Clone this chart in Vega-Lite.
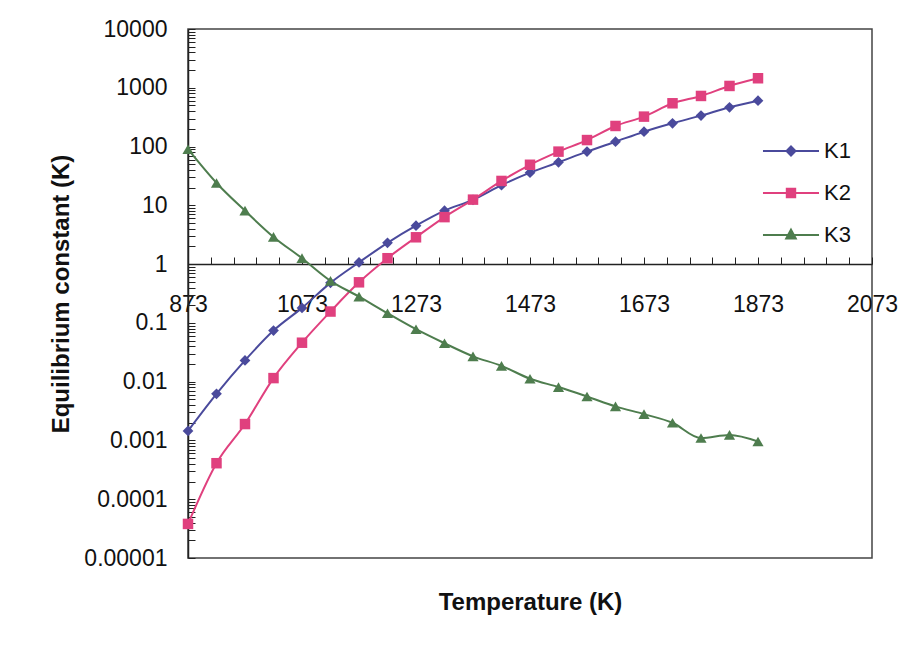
{
  "$schema": "https://vega.github.io/schema/vega-lite/v6.json",
  "width": 684,
  "height": 529,
  "autosize": "none",
  "padding": {"left": 188, "top": 29, "right": 35, "bottom": 87},
  "background": "white",
  "config": {
    "view": {"stroke": "#444444", "strokeWidth": 1.5},
    "font": "Liberation Sans",
    "legend": {
      "orient": "none", "legendX": 592, "legendY": 111,
      "labelFontSize": 22, "labelColor": "#111111", "labelFont": "Liberation Sans",
      "symbolSize": 144, "symbolStrokeWidth": 2, "rowPadding": 20, "labelOffset": 22
    }
  },
  "data": {
    "values": [
      {"T": 873, "series": "K1", "K": 0.00145},
      {"T": 923, "series": "K1", "K": 0.0062},
      {"T": 973, "series": "K1", "K": 0.023},
      {"T": 1023, "series": "K1", "K": 0.074},
      {"T": 1073, "series": "K1", "K": 0.18},
      {"T": 1123, "series": "K1", "K": 0.48},
      {"T": 1173, "series": "K1", "K": 1.07},
      {"T": 1223, "series": "K1", "K": 2.3},
      {"T": 1273, "series": "K1", "K": 4.5},
      {"T": 1323, "series": "K1", "K": 8.1},
      {"T": 1373, "series": "K1", "K": 12.4},
      {"T": 1423, "series": "K1", "K": 22},
      {"T": 1473, "series": "K1", "K": 36},
      {"T": 1523, "series": "K1", "K": 54},
      {"T": 1573, "series": "K1", "K": 82},
      {"T": 1623, "series": "K1", "K": 121},
      {"T": 1673, "series": "K1", "K": 179},
      {"T": 1723, "series": "K1", "K": 249},
      {"T": 1773, "series": "K1", "K": 336},
      {"T": 1823, "series": "K1", "K": 466},
      {"T": 1873, "series": "K1", "K": 604},
      {"T": 873, "series": "K2", "K": 0.000038},
      {"T": 923, "series": "K2", "K": 0.00041},
      {"T": 973, "series": "K2", "K": 0.0019},
      {"T": 1023, "series": "K2", "K": 0.0115},
      {"T": 1073, "series": "K2", "K": 0.046},
      {"T": 1123, "series": "K2", "K": 0.156},
      {"T": 1173, "series": "K2", "K": 0.49},
      {"T": 1223, "series": "K2", "K": 1.26},
      {"T": 1273, "series": "K2", "K": 2.86},
      {"T": 1323, "series": "K2", "K": 6.3},
      {"T": 1373, "series": "K2", "K": 12.5},
      {"T": 1423, "series": "K2", "K": 26},
      {"T": 1473, "series": "K2", "K": 49},
      {"T": 1523, "series": "K2", "K": 82},
      {"T": 1573, "series": "K2", "K": 129},
      {"T": 1623, "series": "K2", "K": 224},
      {"T": 1673, "series": "K2", "K": 323},
      {"T": 1723, "series": "K2", "K": 545},
      {"T": 1773, "series": "K2", "K": 726},
      {"T": 1823, "series": "K2", "K": 1074},
      {"T": 1873, "series": "K2", "K": 1452},
      {"T": 873, "series": "K3", "K": 90},
      {"T": 923, "series": "K3", "K": 24},
      {"T": 973, "series": "K3", "K": 8.1},
      {"T": 1023, "series": "K3", "K": 2.9},
      {"T": 1073, "series": "K3", "K": 1.26},
      {"T": 1123, "series": "K3", "K": 0.52},
      {"T": 1173, "series": "K3", "K": 0.28},
      {"T": 1223, "series": "K3", "K": 0.146},
      {"T": 1273, "series": "K3", "K": 0.078},
      {"T": 1323, "series": "K3", "K": 0.045},
      {"T": 1373, "series": "K3", "K": 0.027},
      {"T": 1423, "series": "K3", "K": 0.0186},
      {"T": 1473, "series": "K3", "K": 0.0112},
      {"T": 1523, "series": "K3", "K": 0.0081},
      {"T": 1573, "series": "K3", "K": 0.0056},
      {"T": 1623, "series": "K3", "K": 0.0038},
      {"T": 1673, "series": "K3", "K": 0.0028},
      {"T": 1723, "series": "K3", "K": 0.002},
      {"T": 1773, "series": "K3", "K": 0.0011},
      {"T": 1823, "series": "K3", "K": 0.00124},
      {"T": 1873, "series": "K3", "K": 0.00096}
    ]
  },
  "encoding": {
    "x": {
      "field": "T",
      "type": "quantitative",
      "scale": {"domain": [873, 2073], "nice": false, "zero": false},
      "axis": {
        "orient": "bottom",
        "offset": -294,
        "values": [873, 913, 953, 993, 1033, 1073, 1113, 1153, 1193, 1233, 1273, 1313, 1353, 1393, 1433, 1473, 1513, 1553, 1593, 1633, 1673, 1713, 1753, 1793, 1833, 1873, 1913, 1953, 1993, 2033, 2073],
        "labelExpr": "(datum.value - 873) % 200 == 0 ? format(datum.value, 'd') : ''",
        "tickSize": -7,
        "tickColor": "#222222",
        "domainColor": "#222222",
        "domainWidth": 1.5,
        "labelPadding": 36,
        "labelFontSize": 23,
        "labelColor": "#111111",
        "labelOverlap": false,
        "labelFlush": false,
        "grid": false,
        "title": "Temperature (K)",
        "titleFontSize": 24,
        "titleFontWeight": "bold",
        "titleColor": "#111111",
        "titleBaseline": "alphabetic",
        "titleY": 345
      }
    },
    "y": {
      "field": "K",
      "type": "quantitative",
      "scale": {"type": "log", "domain": [0.00001, 10000], "nice": false},
      "axis": {
        "orient": "left",
        "values": [0.00001, 0.00002, 0.00003, 0.00004, 0.00005, 0.00006, 0.00007, 0.00008, 0.00009,
                   0.0001, 0.0002, 0.0003, 0.0004, 0.0005, 0.0006, 0.0007, 0.0008, 0.0009,
                   0.001, 0.002, 0.003, 0.004, 0.005, 0.006, 0.007, 0.008, 0.009,
                   0.01, 0.02, 0.03, 0.04, 0.05, 0.06, 0.07, 0.08, 0.09,
                   0.1, 0.2, 0.3, 0.4, 0.5, 0.6, 0.7, 0.8, 0.9,
                   1, 2, 3, 4, 5, 6, 7, 8, 9,
                   10, 20, 30, 40, 50, 60, 70, 80, 90,
                   100, 200, 300, 400, 500, 600, 700, 800, 900,
                   1000, 2000, 3000, 4000, 5000, 6000, 7000, 8000, 9000, 10000],
        "labelExpr": "abs(log(datum.value)/LN10 - round(log(datum.value)/LN10)) < 0.001 ? (datum.value >= 1 ? format(datum.value, 'd') : format(datum.value, '.' + round(-log(datum.value)/LN10) + 'f')) : ''",
        "tickSize": -7,
        "tickColor": "#222222",
        "domainColor": "#222222",
        "domainWidth": 1.5,
        "labelPadding": 28,
        "labelFontSize": 23,
        "labelColor": "#111111",
        "labelOverlap": false,
        "labelFlush": false,
        "grid": false,
        "title": "Equilibrium constant (K)",
        "titleFontSize": 24,
        "titleFontWeight": "bold",
        "titleColor": "#111111",
        "titlePadding": 10
      }
    }
  },
  "layer": [
    {
      "mark": {"type": "line", "interpolate": "monotone", "strokeWidth": 2},
      "encoding": {
        "color": {
          "field": "series",
          "type": "nominal",
          "scale": {"domain": ["K1", "K2", "K3"], "range": ["#4A4A9C", "#E0407E", "#4E7D4E"]},
          "legend": {"title": null, "encode": {"symbols": {"update": {"fill": {"scale": "color", "field": "value"}, "stroke": {"scale": "color", "field": "value"}}}}}
        }
      }
    },
    {
      "transform": [{"filter": "datum.series == 'K1'"}],
      "mark": {"type": "point", "filled": true, "size": 115, "opacity": 1, "shape": "diamond"},
      "encoding": {
        "color": {"field": "series", "type": "nominal"}
      }
    },
    {
      "transform": [{"filter": "datum.series == 'K2'"}],
      "mark": {"type": "point", "filled": true, "size": 110, "opacity": 1, "shape": "square"},
      "encoding": {
        "color": {"field": "series", "type": "nominal"}
      }
    },
    {
      "transform": [{"filter": "datum.series == 'K3'"}],
      "mark": {"type": "point", "filled": true, "size": 125, "opacity": 1, "shape": "triangle-up"},
      "encoding": {
        "color": {"field": "series", "type": "nominal"}
      }
    },
    {
      "transform": [{"filter": "datum.series == 'none'"}],
      "mark": {"type": "point", "filled": false, "size": 144, "opacity": 1, "strokeWidth": 2},
      "encoding": {
        "color": {"field": "series", "type": "nominal"},
        "shape": {
          "field": "series",
          "type": "nominal",
          "scale": {"domain": ["K1", "K2", "K3"], "range": ["M-4.67,0H4.67M0,-0.75L0.75,0L0,0.75L-0.75,0Z", "M-4.67,0H4.67M-0.7,-0.7H0.7V0.7H-0.7Z", "M-4.67,0H4.67M0,-0.9L0.8,0.6H-0.8Z"]},
          "legend": {"title": null, "encode": {"symbols": {"update": {"fill": {"scale": "color", "field": "value"}, "stroke": {"scale": "color", "field": "value"}}}}}
        }
      }
    }
  ]
}
